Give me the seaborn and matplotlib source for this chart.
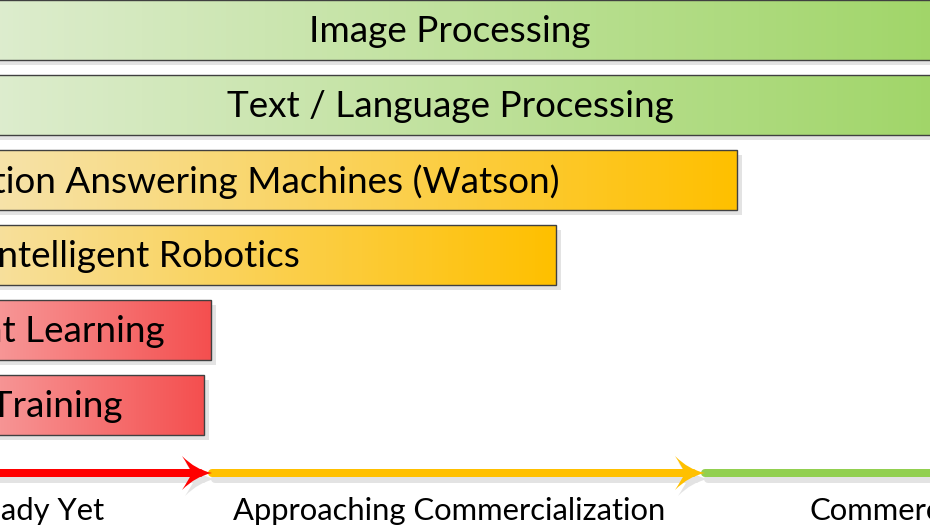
import numpy as np
import matplotlib
matplotlib.use("Agg")
import matplotlib.pyplot as plt
import matplotlib.transforms as mtrans
from matplotlib.patches import Rectangle, PathPatch
from matplotlib.path import Path
from matplotlib.colors import LinearSegmentedColormap
import seaborn as sns
import pandas as pd

# ---------------- data ----------------
technologies = ["Image Processing", "Text / Language Processing",
                "Question Answering Machines (Watson)", "Intelligent Robotics",
                "Reinforcement Learning", "Simulation Training"]
readiness = [144.0, 144.0, 100.7, 82.6, 48.1, 47.4]
stage = ["Commercialized", "Commercialized", "Approaching", "Approaching",
         "Not Ready", "Not Ready"]

stage_labels = ["Not Ready Yet", "Approaching Commercialization", "Commercialized"]
stage_keys = ["Not Ready", "Approaching", "Commercialized"]
stage_bounds = [0.0, 48.2, 97.5, 150.0]
stage_label_x = [27.5, 71.9, 118.8]

view_x = (27.0, 120.0)

# ---------------- style ----------------
full_colors = {"Commercialized": "#92d050", "Approaching": "#ffc000", "Not Ready": "#f44f4f"}
light_colors = {"Commercialized": "#eef3ea", "Approaching": "#f3efe6", "Not Ready": "#fbf0f0"}
line_colors = {"Commercialized": "#92d050", "Approaching": "#ffc000", "Not Ready": "#ff0000"}
shadow = "#e3e3e3"
FONT = ["Lato", "DejaVu Sans"]

sns.set_theme(style="white")
plt.rcParams["font.family"] = FONT

df = pd.DataFrame({"technology": technologies, "readiness": readiness, "stage": stage})

fig = plt.figure(figsize=(9.3, 5.3), dpi=100)
ax = fig.add_axes([0, 0, 1, 1])
sns.barplot(data=df, x="readiness", y="technology", orient="h", width=0.8,
            color="#cccccc", errorbar=None, ax=ax, zorder=2)
ax.set_xlim(*view_x)
px_per_cat = 75.0
ytop = -0.4
ybot = ytop + 530.0 / px_per_cat
ax.set_ylim(ybot, ytop)
ax.axis("off")

sx = (view_x[1] - view_x[0]) / 930.0   # data units per pixel (x)
sy = (ybot - ytop) / 530.0             # data units per pixel (y)

shadow_off = mtrans.ScaledTranslation(5 / 100, -5 / 100, fig.dpi_scale_trans)

patches = sorted(ax.patches, key=lambda p: p.get_y())
for p, tech, st in zip(patches, technologies, stage):
    x0, y0, w, h = p.get_x(), p.get_y(), p.get_width(), p.get_height()
    sh = Rectangle((x0, y0), w, h, facecolor=shadow, edgecolor="none",
                   transform=ax.transData + shadow_off, zorder=1)
    ax.add_patch(sh)
    p.set_edgecolor("none")
    cmap = LinearSegmentedColormap.from_list("g", [light_colors[st], full_colors[st]])
    grad = np.linspace(0, 1, 256).reshape(1, -1)
    im = ax.imshow(grad, cmap=cmap, aspect="auto", extent=[x0, x0 + w, y0 + h, y0],
                   zorder=2.5, interpolation="bilinear")
    im.set_clip_path(p)
    ax.add_patch(Rectangle((x0, y0), w, h, facecolor="none", edgecolor="#404040",
                           linewidth=1.0, zorder=3))
    ax.text(x0 + w / 2, y0 + h / 2 + 1.5 * sy, tech, ha="center", va="center",
            fontsize=26.6, color="black", zorder=4, family=FONT)

ax.set_xlim(*view_x)
ax.set_ylim(ybot, ytop)

# ---------------- stage arrow ----------------
ay = ytop + 473 * sy
lw = 8 * 72 / 100
line_shadow = mtrans.ScaledTranslation(3 / 100, -6 / 100, fig.dpi_scale_trans)


def head_path(xt, yt):
    # concave "stealth" arrowhead, defined in pixels relative to the tip
    pts = [(0, 0), (-16, -3), (-30, -17),
           (-24, -8), (-20, 0),
           (-24, 8), (-30, 17),
           (-16, 3), (0, 0)]
    codes = [Path.MOVETO, Path.CURVE3, Path.CURVE3,
             Path.CURVE3, Path.CURVE3,
             Path.CURVE3, Path.CURVE3,
             Path.CURVE3, Path.CURVE3]
    verts = [(xt + dx * sx, yt + dy * sy) for dx, dy in pts]
    return Path(verts, codes)


for i, key in enumerate(stage_keys):
    xs, xe = stage_bounds[i], stage_bounds[i + 1]
    col = line_colors[key]
    has_head = i < len(stage_keys) - 1
    xe_line = xe - 12 * sx if has_head else xe
    ax.plot([xs, xe_line], [ay, ay], color=shadow, lw=lw, solid_capstyle="round",
            transform=ax.transData + line_shadow, zorder=1)
    ax.plot([xs, xe_line], [ay, ay], color=col, lw=lw, solid_capstyle="round", zorder=3)
    if has_head:
        ax.add_patch(PathPatch(head_path(xe, ay), facecolor=shadow, edgecolor="none",
                               transform=ax.transData + line_shadow, zorder=1))
        ax.add_patch(PathPatch(head_path(xe, ay), facecolor=col, edgecolor="none", zorder=4))
    ax.text(stage_label_x[i], ytop + 511 * sy, stage_labels[i], ha="center", va="center",
            fontsize=22.3, color="black", family=FONT)

fig.savefig("out.png", dpi=100)
